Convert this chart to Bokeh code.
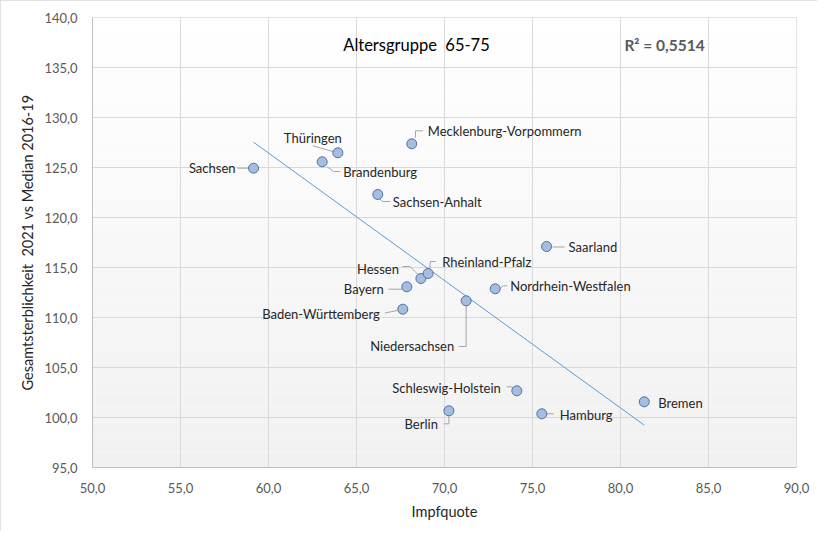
import numpy as np
from bokeh.plotting import figure
from bokeh.models import ColumnDataSource, FixedTicker, Range1d
from bokeh.embed import file_html
from bokeh.resources import INLINE
from bokeh.core.properties import value

# ---------------- data ----------------
states = ["Sachsen", "Thüringen", "Brandenburg", "Mecklenburg-Vorpommern",
          "Sachsen-Anhalt", "Saarland", "Hessen", "Rheinland-Pfalz", "Bayern",
          "Baden-Württemberg", "Niedersachsen", "Nordrhein-Westfalen",
          "Schleswig-Holstein", "Berlin", "Hamburg", "Bremen"]
impfquote = [59.15, 63.94, 63.05, 68.14, 66.21, 75.80, 68.66, 69.07, 67.86,
             67.63, 71.23, 72.88, 74.11, 70.25, 75.53, 81.35]
sterblichkeit = [124.93, 126.47, 125.57, 127.37, 122.30, 117.10, 113.90, 114.40,
                 113.07, 110.83, 111.67, 112.87, 102.67, 100.67, 100.37, 101.57]

x_ticks = [50, 55, 60, 65, 70, 75, 80, 85, 90]
x_tick_labels = ["50,0", "55,0", "60,0", "65,0", "70,0", "75,0", "80,0", "85,0", "90,0"]
y_ticks = [95, 100, 105, 110, 115, 120, 125, 130, 135, 140]
y_tick_labels = ["95,0", "100,0", "105,0", "110,0", "115,0", "120,0", "125,0",
                 "130,0", "135,0", "140,0"]

title_text = "Altersgruppe\u00a0 65-75"
r2_text = "R² = 0,5514"
x_title = "Impfquote"
y_title = "Gesamtsterblichkeit\u00a0 2021 vs Median 2016-19"

# ---------------- label layout (pixel offsets, style only) ----------------
# state: (dx, dy, align, leader polyline in pixel offsets from point)
label_layout = {
    "Sachsen": (-18, 0, "right", [(-5, 0), (-16, 0)]),
    "Thüringen": (-25, -15, "center", [(-4, -1), (-25, -7)]),
    "Brandenburg": (21, 10.5, "left", [(5, 5), (11.5, 9.7), (18, 9.7)]),
    "Mecklenburg-Vorpommern": (16, -12.5, "left", [(3.7, -6), (3.7, -13), (11, -13)]),
    "Sachsen-Anhalt": (15, 7, "left", [(1.7, 4), (4.7, 7), (12.5, 7)]),
    "Saarland": (22, 0.5, "left", [(6, 0.5), (18, 0.5)]),
    "Hessen": (-22, -10, "right", [(-2, -3), (-11, -12), (-18.5, -12)]),
    "Rheinland-Pfalz": (14, -12, "left", [(1.3, -4), (2.3, -12), (7.5, -12)]),
    "Bayern": (-23, 2.5, "right", [(-4.6, 2.4), (-18.3, 2.4)]),
    "Baden-Württemberg": (-23, 4.5, "right", [(-5.6, 1.3), (-18, 3.8)]),
    "Niedersachsen": (-12, 45.5, "right", [(0, 4.5), (0, 45.7), (-7.4, 45.7)]),
    "Nordrhein-Westfalen": (15, -2.5, "left", [(5, -0.5), (8, -3), (12, -3)]),
    "Schleswig-Holstein": (-16, -3, "right", [(-3, -2), (-4.6, -4), (-10.3, -4)]),
    "Berlin": (-11, 13.5, "right", [(0, 4), (0, 13), (-5, 13)]),
    "Hamburg": (18, 1, "left", [(4.5, 0), (12, 0)]),
    "Bremen": (14, 1, "left", []),
}

FONT = "Lato"
X0, X1, Y0, Y1 = 50, 90, 95, 140
FW, FH = 704, 450
px_per_x = FW / (X1 - X0)
px_per_y = FH / (Y1 - Y0)

p = figure(frame_width=FW, frame_height=FH, output_backend="svg",
           toolbar_location=None, x_range=Range1d(X0, X1), y_range=Range1d(Y0, Y1),
           min_border_left=92, min_border_right=21, min_border_top=17,
           min_border_bottom=64)
p.styles = {"outline": "1px solid #d9d9d9", "outline-offset": "-1px"}
p.background_fill_color = "white"
p.border_fill_color = "white"
p.outline_line_color = "#d9d9d9"

# gradient plot-area background (decoration)
nb = 60
edges = np.linspace(Y0, Y1, nb + 1)
cols = []
for i in range(nb):
    t = 1 - (i + 0.5) / nb  # 1 at bottom
    c = int(round(255 - (255 - 241) * t))
    cols.append("#%02x%02x%02x" % (c, c, c))
p.quad(left=[X0] * nb, right=[X1] * nb, bottom=edges[:-1], top=edges[1:],
       fill_color=cols, line_color=None, level="image")

# grid / axes
p.xgrid.grid_line_color = "#d9d9d9"
p.ygrid.grid_line_color = "#d9d9d9"
p.xaxis.ticker = FixedTicker(ticks=x_ticks)
p.yaxis.ticker = FixedTicker(ticks=y_ticks)
p.xgrid.ticker = FixedTicker(ticks=x_ticks)
p.ygrid.ticker = FixedTicker(ticks=y_ticks)
p.xaxis.major_label_overrides = {t: l for t, l in zip(x_ticks, x_tick_labels)}
p.yaxis.major_label_overrides = {t: l for t, l in zip(y_ticks, y_tick_labels)}
for ax in (p.xaxis[0], p.yaxis[0]):
    ax.axis_line_color = "#bfbfbf"
    ax.major_tick_line_color = None
    ax.minor_tick_line_color = None
    ax.major_tick_out = 0
    ax.major_tick_in = 0
    ax.major_label_text_font = FONT
    ax.major_label_text_font_size = "13px"
    ax.major_label_text_color = "#595959"
    ax.axis_label_text_font = FONT
    ax.axis_label_text_font_size = "14.5px"
    ax.axis_label_text_font_style = "normal"
    ax.axis_label_text_color = "#262626"
p.xaxis.axis_label = x_title
p.yaxis.axis_label = y_title
p.xaxis.major_label_standoff = 15
p.yaxis.major_label_standoff = 15
p.xaxis.axis_label_standoff = 7
p.yaxis.axis_label_standoff = 5

# trend line (least squares from the data)
xa = np.array(impfquote)
ya = np.array(sterblichkeit)
m, b = np.polyfit(xa, ya, 1)
tx = np.array([xa.min(), xa.max()])
p.line(tx, m * tx + b, line_color="#5b9bd5", line_width=1)

# leader lines
lx, ly = [], []
for s, xv, yv in zip(states, impfquote, sterblichkeit):
    pts = label_layout[s][3]
    if pts:
        lx.append([xv + dx / px_per_x for dx, dy in pts])
        ly.append([yv - dy / px_per_y for dx, dy in pts])
p.multi_line(lx, ly, line_color="#a6a6a6", line_width=1)

# points
src = ColumnDataSource(dict(x=impfquote, y=sterblichkeit, name=states,
                            dx=[label_layout[s][0] for s in states],
                            dy=[label_layout[s][1] for s in states],
                            al=[label_layout[s][2] for s in states]))
p.scatter("x", "y", source=src, size=10, fill_color="#a5bde0",
          line_color="#51709e", line_width=1)

# data labels
p.text("x", "y", text="name", source=src, x_offset="dx", y_offset="dy",
       text_align="al", text_baseline="middle", text_font=value(FONT),
       text_font_size="13px", text_color="#262626")

# title and R²
tsrc = ColumnDataSource(dict(x=[X0 + (416 - 92) / px_per_x],
                             y=[Y1 - 27 / px_per_y], t=[title_text]))
p.text("x", "y", text="t", source=tsrc, text_align="center",
       text_baseline="middle", text_font=value(FONT), text_font_size="16.5px",
       text_color="#000000")
rsrc = ColumnDataSource(dict(x=[X0 + (664 - 92) / px_per_x],
                             y=[Y1 - 27 / px_per_y], t=[r2_text]))
p.text("x", "y", text="t", source=rsrc, text_align="center",
       text_baseline="middle", text_font=value(FONT), text_font_size="15.5px",
       text_font_style="bold", text_color="#595959")

open("out.html", "w").write(file_html(p, INLINE))
